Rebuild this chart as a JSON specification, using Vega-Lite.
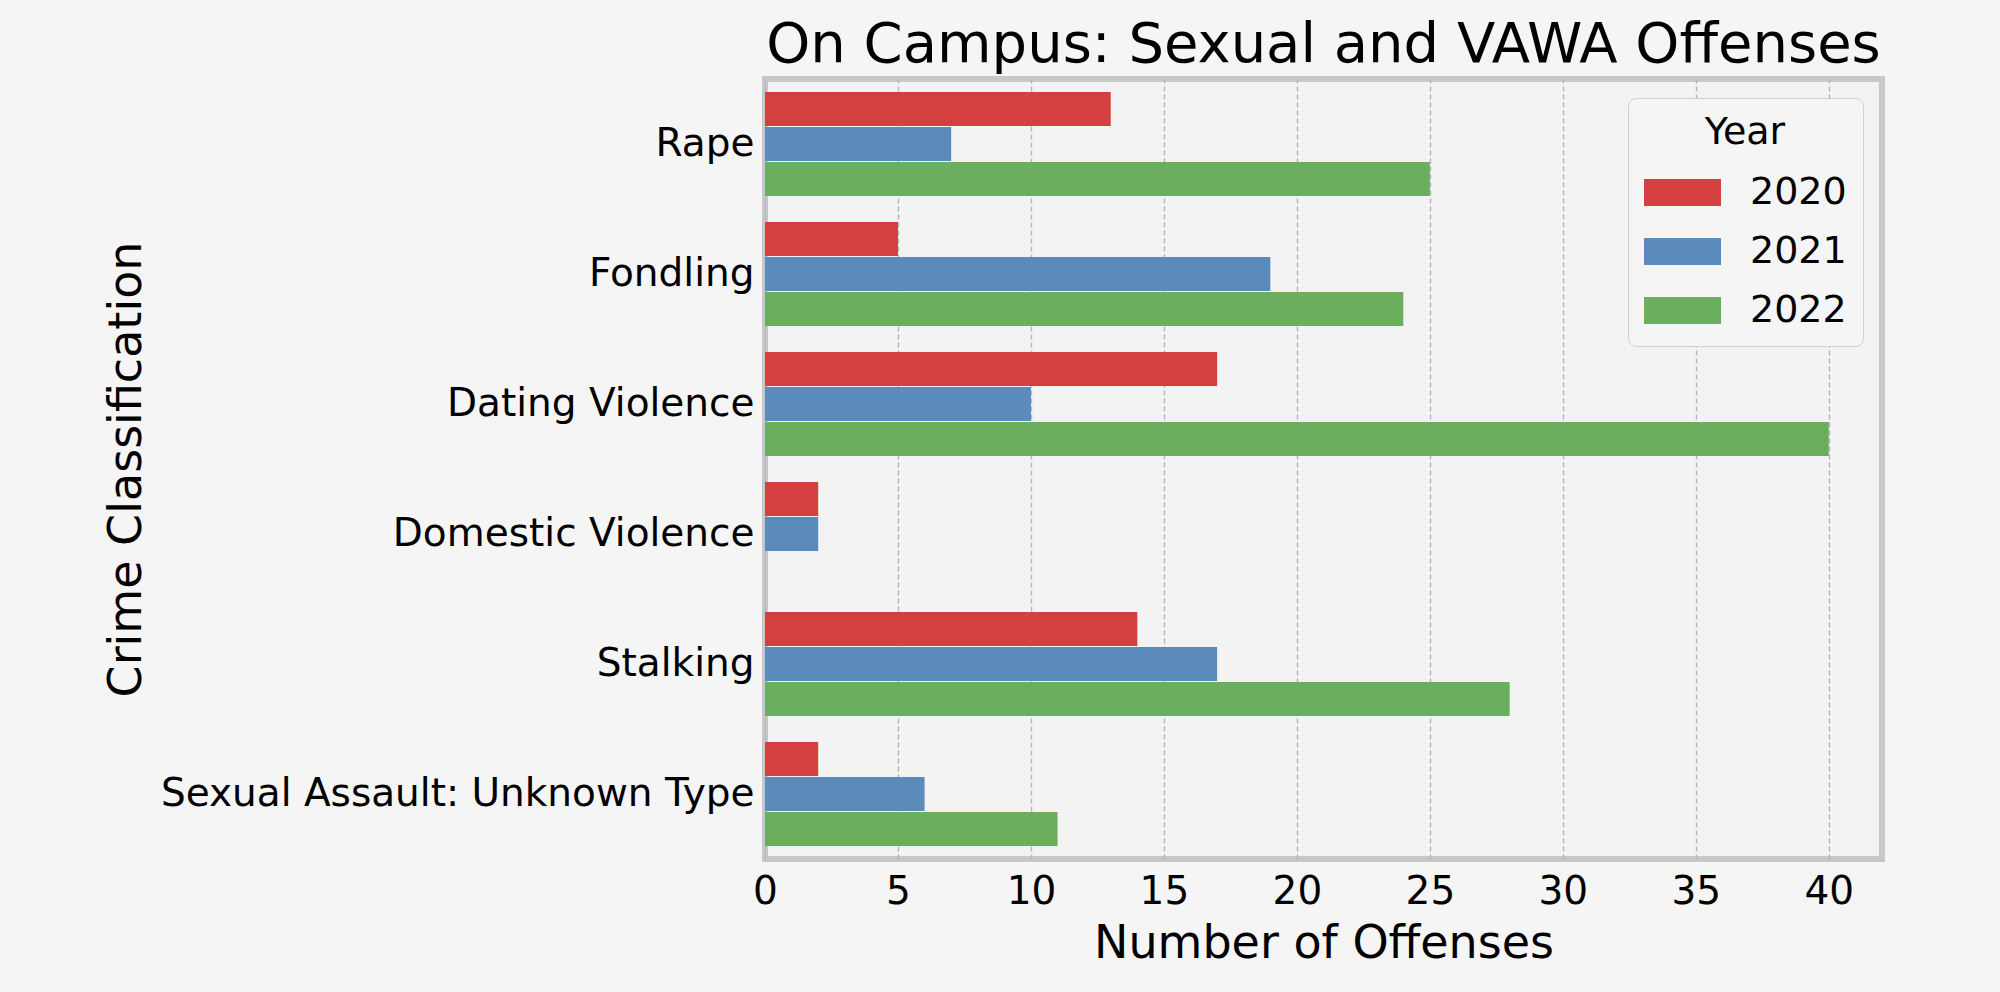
{
  "$schema": "https://vega.github.io/schema/vega-lite/v6.json",
  "autosize": {"type": "none"},
  "padding": {"left": 765, "top": 79, "right": 118, "bottom": 133},
  "width": 1117,
  "height": 780,
  "background": "#f5f5f5",
  "title": {
    "text": "On Campus: Sexual and VAWA Offenses",
    "fontSize": 56,
    "font": "DejaVu Sans",
    "fontWeight": "normal",
    "color": "#000000",
    "anchor": "middle",
    "frame": "group",
    "baseline": "alphabetic",
    "offset": 15,
    "dy": 54
  },
  "data": {
    "values": [
      {"Crime": "Rape", "Year": "2020", "Offenses": 13},
      {"Crime": "Rape", "Year": "2021", "Offenses": 7},
      {"Crime": "Rape", "Year": "2022", "Offenses": 25},
      {"Crime": "Fondling", "Year": "2020", "Offenses": 5},
      {"Crime": "Fondling", "Year": "2021", "Offenses": 19},
      {"Crime": "Fondling", "Year": "2022", "Offenses": 24},
      {"Crime": "Dating Violence", "Year": "2020", "Offenses": 17},
      {"Crime": "Dating Violence", "Year": "2021", "Offenses": 10},
      {"Crime": "Dating Violence", "Year": "2022", "Offenses": 40},
      {"Crime": "Domestic Violence", "Year": "2020", "Offenses": 2},
      {"Crime": "Domestic Violence", "Year": "2021", "Offenses": 2},
      {"Crime": "Domestic Violence", "Year": "2022", "Offenses": 0},
      {"Crime": "Stalking", "Year": "2020", "Offenses": 14},
      {"Crime": "Stalking", "Year": "2021", "Offenses": 17},
      {"Crime": "Stalking", "Year": "2022", "Offenses": 28},
      {"Crime": "Sexual Assault: Unknown Type", "Year": "2020", "Offenses": 2},
      {"Crime": "Sexual Assault: Unknown Type", "Year": "2021", "Offenses": 6},
      {"Crime": "Sexual Assault: Unknown Type", "Year": "2022", "Offenses": 11}
    ]
  },
  "mark": {"type": "bar"},
  "encoding": {
    "y": {
      "field": "Crime",
      "type": "nominal",
      "sort": ["Rape", "Fondling", "Dating Violence", "Domestic Violence", "Stalking", "Sexual Assault: Unknown Type"],
      "scale": {"paddingInner": 0.2, "paddingOuter": 0.1},
      "axis": {
        "title": "Crime Classification",
        "titleFontSize": 46,
        "titleFontWeight": "normal",
        "titleFont": "DejaVu Sans",
        "titleColor": "#000000",
        "titleAngle": -90,
        "titleX": -625,
        "titleY": 390,
        "titleAlign": "center",
        "titleBaseline": "alphabetic",
        "labelFontSize": 39,
        "labelFont": "DejaVu Sans",
        "labelColor": "#000000",
        "labelPadding": 11,
        "labelLimit": 0,
        "ticks": false,
        "tickSize": 0,
        "domain": false,
        "grid": false
      }
    },
    "yOffset": {
      "field": "Year",
      "type": "nominal",
      "scale": {"paddingInner": 0.03}
    },
    "x": {
      "field": "Offenses",
      "type": "quantitative",
      "scale": {"domain": [0, 42], "nice": false, "zero": true},
      "axis": {
        "title": "Number of Offenses",
        "titleFontSize": 46,
        "titleFontWeight": "normal",
        "titleFont": "DejaVu Sans",
        "titleColor": "#000000",
        "titleX": 558.5,
        "titleY": 98,
        "titleAlign": "center",
        "titleBaseline": "alphabetic",
        "values": [0, 5, 10, 15, 20, 25, 30, 35, 40],
        "labelFontSize": 39,
        "labelFont": "DejaVu Sans",
        "labelColor": "#000000",
        "labelPadding": 13,
        "labelFlush": false,
        "ticks": false,
        "tickSize": 0,
        "domain": false,
        "grid": true,
        "gridDash": [5, 3],
        "gridColor": "#b0b4c6",
        "gridWidth": 1.4
      }
    },
    "color": {
      "field": "Year",
      "type": "nominal",
      "scale": {"domain": ["2020", "2021", "2022"], "range": ["#d43f3f", "#5b8bba", "#6bae5e"]},
      "legend": {
        "title": "Year",
        "orient": "top-right",
        "offset": 19,
        "titleFontSize": 38,
        "titleFont": "DejaVu Sans",
        "titleFontWeight": "normal",
        "titleColor": "#000000",
        "titleAnchor": "middle",
        "titlePadding": 21,
        "labelFontSize": 38,
        "labelFont": "DejaVu Sans",
        "labelColor": "#000000",
        "symbolType": "M-2,-0.7L2,-0.7L2,0.7L-2,0.7Z",
        "symbolSize": 1482,
        "symbolStrokeWidth": 0,
        "symbolOffset": 19,
        "labelOffset": 48,
        "rowPadding": 20,
        "padding": 16,
        "strokeColor": "#d0d0d0",
        "fillColor": "#f5f5f5",
        "cornerRadius": 8
      }
    }
  },
  "config": {
    "view": {"stroke": "#c8c8c8", "strokeWidth": 6, "fill": "#f3f3f3"},
    "font": "DejaVu Sans"
  }
}
